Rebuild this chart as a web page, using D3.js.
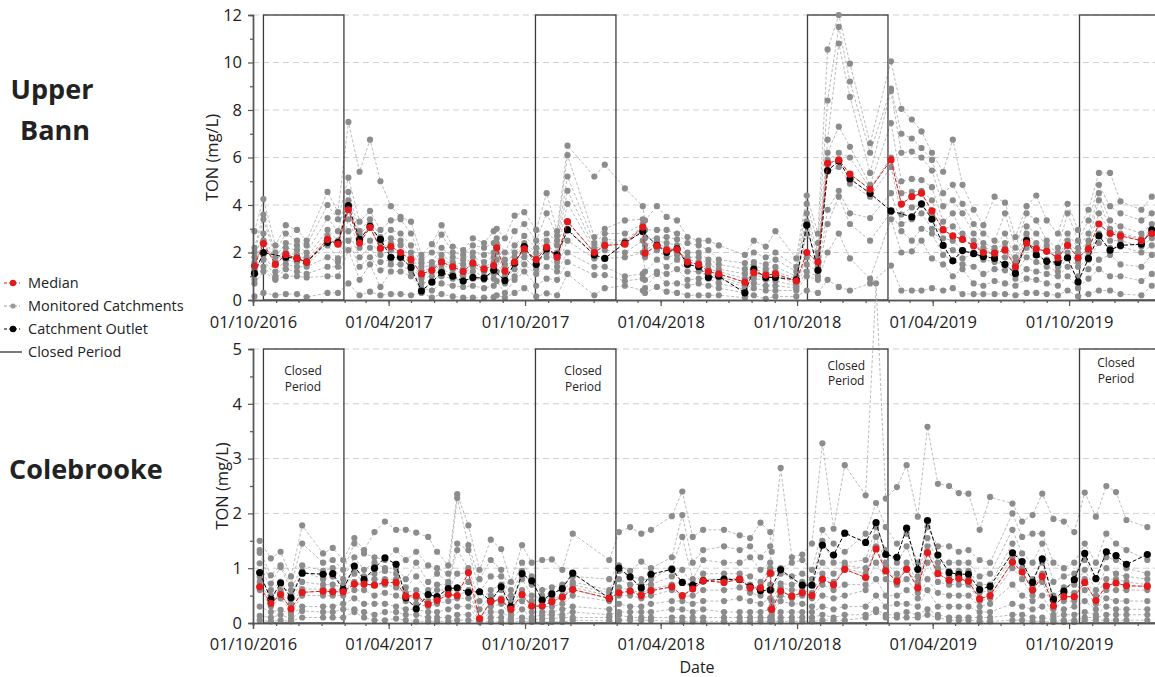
<!DOCTYPE html>
<html>
<head>
<meta charset="utf-8">
<script src="https://cdn.jsdelivr.net/npm/d3@7"></script>
<style>
  body { margin: 0; background: #fff; }
  text { font-family: "Open Sans", sans-serif; fill: #222; }
</style>
</head>
<body>
<svg id="chart" width="1155" height="677"></svg>
<script>
// ---- Upper Bann (top panel) ----
var ubDates = ["2016-10-03","2016-10-15","2016-10-31","2016-11-14","2016-11-29","2016-12-12","2017-01-09","2017-01-23",
  "2017-02-06","2017-02-21","2017-03-07","2017-03-21","2017-04-04","2017-04-17","2017-05-01","2017-05-15","2017-05-29",
  "2017-06-11","2017-06-26","2017-07-10","2017-07-23","2017-08-07","2017-08-20","2017-08-24","2017-09-04","2017-09-17",
  "2017-09-30","2017-10-16","2017-10-30","2017-11-13","2017-11-27","2018-01-02","2018-01-16","2018-02-12","2018-03-08",
  "2018-03-11","2018-03-27","2018-04-09","2018-04-23","2018-05-07","2018-05-22","2018-06-04","2018-06-18","2018-07-23",
  "2018-08-04","2018-08-20","2018-09-02","2018-09-30","2018-10-14","2018-10-29","2018-11-11","2018-11-26","2018-12-11",
  "2019-01-07","2019-02-04","2019-02-18","2019-03-04","2019-03-17","2019-03-31","2019-04-15","2019-04-28","2019-05-11",
  "2019-05-26","2019-06-08","2019-06-23","2019-07-07","2019-07-21","2019-08-05","2019-08-18","2019-09-01","2019-09-16",
  "2019-09-29","2019-10-13","2019-10-27","2019-11-10","2019-11-25","2019-12-09","2020-01-06","2020-01-20"];
var ubMedian = [1.44,2.38,1.5,1.92,1.75,1.6,2.55,2.35,3.8,2.4,3.05,2.17,2.25,2.0,1.7,1.1,1.25,1.6,1.4,1.2,1.55,1.3,1.45,2.2,
  1.22,1.6,2.15,1.7,2.22,1.8,3.3,2.0,2.3,2.35,3.07,1.97,2.28,2.1,2.12,1.6,1.5,1.2,1.1,0.75,1.15,1.05,1.1,0.8,2.0,1.6,5.75,
  5.9,5.3,4.66,5.9,4.04,4.35,4.5,3.75,2.95,2.7,2.55,2.28,2.0,1.97,2.1,1.4,2.4,2.15,2.05,1.78,2.3,1.78,2.15,3.2,2.8,2.7,2.5,2.8];
var ubOutlet = [1.12,2.0,null,1.8,1.75,1.6,2.43,2.42,3.97,2.55,3.1,2.55,1.8,1.8,1.37,0.38,0.75,1.15,1.0,0.8,0.95,0.92,1.25,null,
  0.82,1.55,2.25,1.5,2.15,1.9,2.95,1.9,1.75,2.4,2.88,null,2.3,2.0,2.15,1.5,1.4,0.95,1.0,0.3,1.3,0.95,0.95,0.85,3.15,1.25,5.45,
  5.85,5.1,4.49,3.75,null,3.5,4.05,3.4,2.3,1.65,2.08,1.95,1.83,1.75,1.5,1.12,2.5,1.9,1.63,1.58,1.78,0.76,1.75,2.7,2.1,2.3,2.35,2.95];
// one row per sampling date, one column per monitored catchment
var ubCatch = [
  [2.9,2.2,2.0,1.8,1.6,1.45,1.3,1.2,0.85,0.7,0.15],
  [4.25,3.6,3.4,2.8,2.5,2.38,1.9,1.7,1.4,1.2,0.3],
  [2.3,2.0,1.8,1.6,1.55,1.5,1.2,1.0,0.9,0.85,0.2],
  [3.15,2.8,2.4,2.2,2.0,1.9,1.7,1.5,1.3,1.0,0.25],
  [2.95,2.5,2.3,2.1,1.9,1.75,1.6,1.4,1.2,1.0,0.25],
  [2.5,2.3,2.0,1.8,1.7,1.6,1.5,1.4,1.1,0.95,0.12],
  [4.55,4.0,3.45,2.95,2.7,2.55,2.3,1.8,1.4,1.0,0.3],
  [3.7,3.4,2.9,2.5,2.4,2.35,1.75,1.6,1.4,1.0,0.3],
  [7.5,5.15,4.55,4.2,3.9,3.8,3.4,2.9,2.5,2.1,0.7],
  [5.4,3.3,2.9,2.75,2.55,2.4,2.2,1.8,1.4,0.85,0.2],
  [6.75,3.75,3.4,3.2,3.1,3.05,2.5,2.2,1.8,1.5,0.35],
  [5.0,2.95,2.65,2.4,2.2,2.17,1.9,1.6,1.25,0.55,0.2],
  [3.95,3.35,2.95,2.6,2.4,2.25,2.1,1.7,1.5,1.2,0.25],
  [3.5,3.4,2.8,2.5,2.3,2.0,1.9,1.75,1.5,1.2,0.25],
  [3.3,2.8,2.3,2.0,1.8,1.7,1.55,1.4,1.2,1.0,0.2],
  [1.9,1.7,1.55,1.4,1.25,1.1,1.0,0.9,0.7,0.5,0.3],
  [2.35,2.0,1.6,1.45,1.3,1.25,1.2,1.0,0.8,0.4,0.1],
  [3.15,2.75,2.2,1.9,1.7,1.6,1.5,1.3,1.0,0.7,0.25],
  [2.25,2.0,1.8,1.6,1.5,1.4,1.3,1.1,0.9,0.6,0.15],
  [2.1,1.9,1.7,1.5,1.3,1.2,1.1,1.0,0.8,0.55,0.1],
  [2.6,2.3,2.0,1.8,1.6,1.55,1.4,1.2,0.9,0.6,0.1],
  [2.4,2.2,1.9,1.6,1.4,1.3,1.2,1.0,0.85,0.5,0.1],
  [2.9,2.4,2.0,1.8,1.6,1.45,1.3,1.1,0.9,0.6,0.12],
  [3.0,2.6,2.4,2.3,2.25,2.2,2.0,1.7,1.2,0.8,0.2],
  [2.6,2.0,1.7,1.5,1.3,1.22,1.0,0.9,0.7,0.3,0.1],
  [3.55,2.9,2.3,2.0,1.8,1.6,1.5,1.3,1.0,0.85,0.3],
  [3.7,3.2,2.7,2.4,2.3,2.15,2.0,1.8,1.5,1.2,0.5],
  [2.95,2.5,2.2,2.0,1.8,1.7,1.5,1.3,1.1,0.6,0.15],
  [4.5,3.65,2.8,2.5,2.3,2.22,2.0,1.8,1.4,0.9,0.28],
  [2.9,2.7,2.5,2.3,2.0,1.8,1.6,1.4,1.2,0.85,0.2],
  [6.5,6.1,5.2,4.6,4.05,3.3,3.0,2.5,2.0,1.6,1.1],
  [5.2,2.65,2.4,2.2,2.1,2.0,1.9,1.75,1.4,1.05,0.2],
  [5.7,3.0,2.8,2.55,2.4,2.3,2.1,1.75,1.4,1.05,0.5],
  [4.7,3.35,2.8,2.5,2.4,2.35,2.0,1.8,1.0,0.8,0.6],
  [3.95,3.4,3.2,3.1,3.07,2.95,2.5,2.0,1.1,0.9,0.4],
  [3.35,2.95,2.6,2.3,2.1,1.97,1.8,1.2,0.85,0.5,0.3],
  [3.95,2.95,2.6,2.5,2.4,2.28,2.1,1.7,1.2,1.1,0.55],
  [3.5,2.95,2.65,2.4,2.2,2.1,1.8,1.4,1.1,0.7,0.35],
  [3.35,2.8,2.55,2.3,2.15,2.12,1.9,1.7,1.3,0.7,0.3],
  [2.65,2.4,2.0,1.8,1.7,1.6,1.5,1.2,0.85,0.6,0.2],
  [2.5,2.3,2.0,1.8,1.6,1.5,1.4,1.2,0.9,0.7,0.2],
  [2.5,2.1,1.7,1.5,1.3,1.2,1.1,1.0,0.9,0.6,0.2],
  [2.3,1.7,1.5,1.3,1.2,1.1,1.0,0.9,0.7,0.5,0.2],
  [1.9,1.55,1.3,1.1,0.9,0.75,0.65,0.55,0.45,0.3,0.1],
  [2.5,2.0,1.6,1.45,1.3,1.15,1.0,0.9,0.7,0.5,0.2],
  [2.25,1.8,1.5,1.3,1.15,1.05,1.0,0.85,0.6,0.4,0.05],
  [2.9,2.0,1.7,1.4,1.2,1.1,1.0,0.8,0.6,0.4,0.15],
  [1.75,1.4,1.2,1.0,0.9,0.8,0.7,0.6,0.5,0.4,0.15],
  [4.4,4.05,3.65,3.3,2.8,2.0,1.8,1.5,1.2,1.0,0.4],
  [2.8,2.4,2.0,1.8,1.7,1.6,1.4,1.2,1.0,0.85,0.3],
  [10.55,8.4,6.75,6.2,5.9,5.75,5.4,3.8,3.2,2.0,0.85],
  [12.0,11.5,10.8,7.3,6.2,5.9,5.6,4.6,4.35,2.8,0.55],
  [9.95,9.2,8.55,6.45,6.0,5.3,4.9,3.65,3.2,1.75,0.4],
  [6.6,6.2,5.35,4.85,4.7,4.66,4.35,3.45,2.5,0.9,0.7],
  [10.05,8.9,8.8,7.45,6.0,5.9,5.6,4.5,3.7,3.4,1.45],
  [8.05,7.0,6.2,5.0,4.5,4.04,3.6,3.2,2.9,2.0,0.4],
  [7.6,6.8,6.25,5.1,4.55,4.35,3.9,3.4,2.5,2.05,0.4],
  [7.1,6.4,6.0,5.05,4.6,4.5,4.0,3.65,3.0,2.5,0.4],
  [6.2,5.9,5.45,4.75,4.2,3.75,3.5,3.0,2.8,1.75,0.5],
  [5.4,4.5,3.95,3.3,3.0,2.95,2.6,2.3,1.9,1.5,0.4],
  [6.75,4.85,4.2,3.65,3.1,2.7,2.5,2.1,1.65,1.0,0.5],
  [4.85,4.05,3.65,2.8,2.6,2.55,2.1,1.75,1.5,1.3,0.25],
  [3.8,3.2,2.8,2.5,2.3,2.28,2.0,1.95,1.4,0.7,0.25],
  [3.15,2.8,2.4,2.2,2.1,2.0,1.8,1.7,1.1,0.6,0.25],
  [4.35,2.5,2.2,2.1,2.0,1.97,1.9,1.6,1.3,0.8,0.25],
  [4.1,3.65,2.8,2.4,2.2,2.1,1.8,1.5,1.25,0.7,0.25],
  [2.65,2.2,1.8,1.6,1.5,1.4,1.3,1.12,0.9,0.6,0.2],
  [3.95,3.65,3.1,2.8,2.6,2.4,2.2,1.8,1.3,0.9,0.3],
  [4.4,3.35,2.8,2.4,2.2,2.15,1.9,1.6,1.2,0.85,0.3],
  [3.35,2.5,2.3,2.1,2.05,2.05,1.7,1.4,1.1,0.7,0.25],
  [2.8,2.2,2.0,1.85,1.8,1.78,1.4,1.2,1.0,0.6,0.2],
  [4.05,3.65,2.8,2.5,2.35,2.3,2.0,1.8,1.4,1.0,0.4],
  [2.95,2.5,2.2,2.0,1.85,1.78,1.6,1.4,1.0,0.5,0.15],
  [3.8,3.35,2.8,2.5,2.3,2.15,2.0,1.7,1.3,0.9,0.25],
  [5.35,4.85,4.5,4.2,3.65,3.2,2.8,2.4,1.7,1.3,0.4],
  [5.35,3.95,3.35,3.0,2.9,2.8,2.5,2.2,1.9,1.0,0.4],
  [4.15,3.65,3.1,2.8,2.75,2.7,2.5,2.25,1.5,1.0,0.25],
  [3.8,3.35,2.8,2.6,2.55,2.5,2.25,2.0,1.4,0.8,0.2],
  [4.35,3.65,3.2,3.0,2.9,2.8,2.6,2.3,1.9,1.1,0.6]
];

// ---- Colebrooke (bottom panel) ----
var cbDates = ["2016-10-10","2016-10-25","2016-11-07","2016-11-21","2016-12-06","2017-01-03","2017-01-16","2017-01-30",
  "2017-02-14","2017-02-27","2017-03-13","2017-03-27","2017-04-11","2017-04-24","2017-05-08","2017-05-24","2017-06-05",
  "2017-06-20","2017-07-02","2017-07-17","2017-08-01","2017-08-16","2017-08-30","2017-09-12","2017-09-27","2017-10-10",
  "2017-10-24","2017-11-06","2017-11-20","2017-12-04","2018-01-22","2018-02-04","2018-02-19","2018-03-06","2018-03-19",
  "2018-04-16","2018-04-30","2018-05-14","2018-05-28","2018-06-25","2018-07-16","2018-07-30","2018-08-13","2018-08-26",
  "2018-08-28","2018-09-09","2018-09-24","2018-10-08","2018-10-21","2018-11-04","2018-11-19","2018-12-04","2019-01-01",
  "2019-01-15","2019-01-28","2019-02-12","2019-02-25","2019-03-12","2019-03-25","2019-04-08","2019-04-23","2019-05-06",
  "2019-05-19","2019-06-03","2019-06-17","2019-07-17","2019-07-30","2019-08-13","2019-08-26","2019-09-10","2019-09-24",
  "2019-10-08","2019-10-22","2019-11-06","2019-11-20","2019-12-03","2019-12-17","2020-01-14"];
var cbMedian = [0.66,0.36,0.52,0.26,0.56,0.58,0.57,0.57,0.71,0.71,0.69,0.74,0.74,0.49,0.5,0.34,0.41,0.52,0.5,0.92,0.08,0.39,
  0.42,0.25,0.52,0.31,0.31,0.39,0.47,0.61,0.45,0.55,0.58,0.5,0.59,0.66,0.5,0.62,0.77,0.74,0.8,0.64,0.64,0.91,0.25,0.58,0.49,
  0.55,0.5,0.8,0.7,0.98,0.83,1.35,0.95,0.76,0.98,0.64,1.28,0.9,0.78,0.81,0.76,0.44,0.5,1.11,0.93,0.6,0.85,0.31,0.48,0.48,
  0.74,0.41,0.68,0.73,0.68,0.67];
var cbOutlet = [0.92,0.43,0.73,0.46,0.91,0.89,0.9,0.61,1.04,0.79,1.0,1.19,1.07,0.46,0.26,0.52,0.48,0.63,0.64,0.56,0.57,0.4,
  0.66,0.3,0.9,0.77,0.42,0.53,0.63,0.91,0.45,1.0,0.84,0.64,0.89,0.98,0.74,0.69,0.77,0.8,0.79,0.66,0.59,0.6,null,0.97,null,
  0.69,0.69,1.42,1.24,1.64,1.47,1.83,1.25,1.2,1.73,0.98,1.87,1.24,0.92,0.89,0.89,0.61,0.67,1.28,1.12,0.74,1.17,0.43,0.58,
  0.79,1.27,0.81,1.3,1.23,1.07,1.25];
var cbCatch = [
  [1.5,1.33,1.28,1.09,0.84,0.75,0.66,0.6,0.3,0.13,0.05],
  [1.18,0.87,0.72,0.6,0.5,0.4,0.36,0.3,0.2,0.1,0.03],
  [1.3,1.05,1.02,0.75,0.6,0.55,0.52,0.45,0.24,0.15,0.05],
  [0.85,0.7,0.6,0.5,0.45,0.35,0.26,0.2,0.15,0.08,0.03],
  [1.78,1.45,1.05,0.95,0.75,0.62,0.56,0.5,0.3,0.22,0.1],
  [1.27,1.1,0.95,0.8,0.7,0.62,0.58,0.5,0.3,0.2,0.1],
  [1.37,1.15,1.0,0.85,0.7,0.6,0.57,0.5,0.3,0.2,0.1],
  [1.15,0.97,0.8,0.7,0.65,0.6,0.57,0.5,0.35,0.25,0.1],
  [1.55,1.45,1.2,1.0,0.9,0.75,0.71,0.6,0.45,0.25,0.2],
  [1.33,1.27,0.97,0.85,0.75,0.72,0.71,0.6,0.35,0.2,0.1],
  [1.66,1.2,1.1,0.9,0.8,0.7,0.69,0.5,0.35,0.15,0.05],
  [1.85,1.15,1.0,0.95,0.8,0.74,0.7,0.55,0.35,0.2,0.05],
  [1.7,1.33,1.0,0.9,0.8,0.74,0.65,0.5,0.3,0.2,0.08],
  [1.7,1.15,0.8,0.65,0.55,0.5,0.49,0.4,0.25,0.15,0.05],
  [1.65,1.3,1.1,0.85,0.6,0.5,0.45,0.35,0.25,0.15,0.03],
  [1.57,1.05,0.75,0.6,0.5,0.4,0.34,0.3,0.2,0.1,0.03],
  [1.3,1.0,0.9,0.7,0.6,0.45,0.41,0.35,0.2,0.1,0.03],
  [1.05,0.9,0.75,0.7,0.6,0.55,0.52,0.4,0.25,0.1,0.03],
  [2.35,2.28,1.45,1.33,0.9,0.64,0.5,0.45,0.3,0.15,0.05],
  [1.78,1.42,1.33,1.0,0.92,0.75,0.6,0.45,0.3,0.15,0.05],
  [0.97,0.8,0.57,0.4,0.25,0.08,0.06,0.05,0.04,0.03,0.02],
  [1.52,1.15,0.85,0.6,0.5,0.4,0.39,0.3,0.2,0.1,0.02],
  [1.35,0.97,0.85,0.7,0.6,0.45,0.42,0.35,0.2,0.1,0.02],
  [0.75,0.6,0.5,0.4,0.3,0.25,0.2,0.15,0.1,0.05,0.02],
  [1.42,1.1,0.95,0.8,0.6,0.52,0.5,0.4,0.25,0.1,0.03],
  [1.1,0.85,0.7,0.5,0.4,0.31,0.3,0.2,0.1,0.05,0.02],
  [1.15,0.6,0.5,0.45,0.4,0.31,0.3,0.2,0.15,0.08,0.02],
  [1.16,0.65,0.55,0.45,0.42,0.39,0.3,0.2,0.15,0.08,0.02],
  [0.97,0.7,0.6,0.5,0.48,0.47,0.35,0.25,0.15,0.1,0.02],
  [1.63,0.85,0.75,0.7,0.65,0.61,0.5,0.3,0.2,0.1,0.05],
  [1.15,0.8,0.6,0.55,0.5,0.45,0.4,0.25,0.15,0.1,0.04],
  [1.66,1.05,0.95,0.8,0.65,0.55,0.5,0.35,0.2,0.15,0.05],
  [1.75,0.95,0.85,0.7,0.6,0.58,0.5,0.3,0.2,0.1,0.05],
  [1.63,1.12,0.8,0.7,0.55,0.5,0.45,0.3,0.2,0.1,0.05],
  [1.7,1.0,0.8,0.7,0.62,0.59,0.5,0.35,0.2,0.1,0.05],
  [1.95,1.2,1.0,0.85,0.7,0.66,0.6,0.4,0.25,0.1,0.03],
  [2.4,1.97,1.57,0.97,0.75,0.5,0.48,0.4,0.25,0.1,0.03],
  [1.57,1.1,0.8,0.7,0.65,0.62,0.5,0.35,0.2,0.1,0.03],
  [1.7,1.33,1.15,0.9,0.8,0.77,0.6,0.4,0.25,0.1,0.03],
  [1.7,1.4,1.1,0.9,0.8,0.74,0.6,0.4,0.2,0.1,0.03],
  [1.6,1.33,1.1,0.9,0.82,0.8,0.65,0.45,0.2,0.1,0.03],
  [1.55,1.4,1.2,0.85,0.7,0.66,0.55,0.4,0.2,0.1,0.03],
  [1.83,1.2,0.97,0.75,0.65,0.64,0.5,0.35,0.2,0.1,0.03],
  [1.66,1.4,1.1,1.0,0.95,0.91,0.7,0.45,0.25,0.1,0.03],
  [1.3,0.9,0.6,0.4,0.3,0.25,0.2,0.15,0.1,0.05,0.03],
  [2.83,1.0,0.9,0.72,0.65,0.59,0.5,0.4,0.2,0.1,0.03],
  [1.2,1.1,0.85,0.7,0.6,0.5,0.45,0.35,0.2,0.1,0.03],
  [1.25,1.15,0.9,0.75,0.6,0.55,0.5,0.35,0.2,0.1,0.03],
  [1.45,0.97,0.8,0.7,0.55,0.5,0.45,0.3,0.2,0.1,0.03],
  [3.28,1.7,1.5,1.1,0.9,0.8,0.7,0.5,0.3,0.15,0.05],
  [1.72,1.45,1.1,0.9,0.75,0.7,0.6,0.45,0.25,0.1,0.05],
  [2.88,1.3,1.1,1.05,1.0,0.98,0.7,0.5,0.3,0.15,0.05],
  [2.33,1.63,1.15,1.0,0.9,0.83,0.7,0.6,0.3,0.15,0.1],
  [6.2,2.19,1.75,1.57,1.4,1.35,1.1,0.8,0.5,0.25,0.2],
  [2.27,1.75,1.33,1.1,1.0,0.95,0.8,0.5,0.3,0.15,0.1],
  [2.48,1.45,1.1,0.9,0.8,0.76,0.7,0.5,0.35,0.15,0.1],
  [2.88,1.63,1.4,1.1,1.0,0.98,0.8,0.6,0.35,0.2,0.1],
  [1.94,1.1,0.85,0.75,0.7,0.64,0.55,0.45,0.3,0.15,0.1],
  [3.58,1.75,1.55,1.4,1.3,1.28,1.1,0.8,0.6,0.25,0.15],
  [2.54,1.4,1.1,1.0,0.95,0.9,0.75,0.55,0.3,0.15,0.1],
  [2.5,1.4,1.1,0.95,0.85,0.78,0.7,0.5,0.3,0.1,0.05],
  [2.37,1.3,1.1,0.95,0.85,0.81,0.7,0.5,0.3,0.1,0.05],
  [2.36,1.33,1.1,0.95,0.8,0.76,0.7,0.5,0.3,0.1,0.05],
  [1.7,1.15,0.85,0.7,0.55,0.44,0.4,0.3,0.2,0.1,0.03],
  [2.3,1.1,0.9,0.7,0.6,0.5,0.45,0.35,0.2,0.1,0.03],
  [2.18,2.0,1.7,1.45,1.2,1.11,1.0,0.7,0.35,0.15,0.05],
  [1.85,1.57,1.27,1.0,0.95,0.93,0.8,0.5,0.3,0.15,0.05],
  [1.97,1.63,1.1,0.8,0.65,0.6,0.5,0.4,0.25,0.1,0.03],
  [2.36,1.63,1.45,1.1,0.9,0.85,0.75,0.5,0.3,0.1,0.03],
  [1.9,1.1,0.75,0.5,0.4,0.31,0.25,0.15,0.1,0.05,0.02],
  [1.85,1.0,0.85,0.65,0.55,0.48,0.4,0.25,0.15,0.05,0.02],
  [1.66,1.1,0.9,0.7,0.55,0.48,0.4,0.3,0.15,0.05,0.02],
  [2.38,1.45,1.15,0.97,0.8,0.74,0.6,0.4,0.2,0.1,0.05],
  [1.94,1.1,0.8,0.6,0.5,0.41,0.35,0.25,0.15,0.1,0.05],
  [2.5,1.63,1.2,1.0,0.8,0.68,0.6,0.45,0.3,0.15,0.05],
  [2.39,1.45,1.15,0.9,0.8,0.73,0.6,0.4,0.25,0.15,0.05],
  [1.88,1.33,1.0,0.85,0.75,0.68,0.6,0.4,0.25,0.15,0.05],
  [1.75,1.15,0.9,0.8,0.7,0.67,0.6,0.4,0.25,0.15,0.05]
];

// closed periods (15 Oct - 31 Jan)
var closedStart = ["2016-10-15","2017-10-15","2018-10-15","2019-10-15"];
var closedEnd   = ["2017-01-31","2018-01-31","2019-01-31","2020-01-31"];
// where the "Closed Period" note sits in the lower panel
var noteDates  = ["2016-12-07","2017-12-18","2018-12-06","2019-12-03"];
var noteValues = [4.6,4.6,4.7,4.74];

var ubTicks = [0,2,4,6,8,10,12];
var cbTicks = [0,1,2,3,4,5];

var parse = d3.timeParse("%Y-%m-%d");
var fmt = d3.timeFormat("%d/%m/%Y");
var svg = d3.select("#chart");

var x = d3.scaleTime()
  .domain([parse("2016-10-01"), parse("2020-01-31")])
  .range([253, 1160]);

var monthTicks = d3.timeMonth.range(parse("2016-10-01"), parse("2020-02-01"));
var labelTicks = monthTicks.filter(function(d) { return d.getMonth() == 3 || d.getMonth() == 9; });

function drawPanel(p) {
  var g = svg.append("g");
  var y = d3.scaleLinear().domain([0, p.max]).range([p.bottom, p.top]);
  var dates = p.dates.map(parse);

  // dashed grid
  g.selectAll(".grid").data(p.ticks.slice(1)).enter().append("line")
    .attr("x1", 253).attr("x2", 1155)
    .attr("y1", function(d) { return y(d); }).attr("y2", function(d) { return y(d); })
    .attr("stroke", "#cfcfcf").attr("stroke-dasharray", "6,4");

  // monitored catchments
  var line = d3.line().x(function(d) { return x(d[0]); }).y(function(d) { return y(d[1]); });
  var nCatch = p.rows[0].length;
  for (var c = 0; c < nCatch; c++) {
    var pts = [];
    dates.forEach(function(d, i) { if (p.rows[i][c] != null) pts.push([d, p.rows[i][c]]); });
    g.append("path").attr("d", line(pts)).attr("fill", "none")
      .attr("stroke", "#a9a9a9").attr("stroke-width", 0.8).attr("stroke-dasharray", "3,2");
  }

  // closed period boxes
  closedStart.forEach(function(s, i) {
    var x0 = x(parse(s)), x1 = x(parse(closedEnd[i]));
    g.append("rect").attr("x", x0).attr("y", y(p.max))
      .attr("width", x1 - x0).attr("height", y(0) - y(p.max))
      .attr("fill", "none").attr("stroke", "#3c3c3c").attr("stroke-width", 1.3);
  });

  p.rows.forEach(function(row, i) {
    row.forEach(function(v) {
      if (v == null) return;
      g.append("circle").attr("cx", x(dates[i])).attr("cy", y(v)).attr("r", 3.1).attr("fill", "#8c8c8c");
    });
  });

  function series(vals, colour) {
    var pts = [];
    dates.forEach(function(d, i) { if (vals[i] != null) pts.push([d, vals[i]]); });
    g.append("path").attr("d", line(pts)).attr("fill", "none")
      .attr("stroke", colour).attr("stroke-width", 1).attr("stroke-dasharray", "4,2");
    g.selectAll(null).data(pts).enter().append("circle")
      .attr("cx", function(d) { return x(d[0]); }).attr("cy", function(d) { return y(d[1]); })
      .attr("r", 3.6).attr("fill", colour);
  }
  series(p.outlet, "#000");
  series(p.median, "#e3191c");

  // axes
  var ya = g.append("g").attr("transform", "translate(253,0)")
    .call(d3.axisLeft(y).tickValues(p.ticks).tickSize(5).tickPadding(6).tickFormat(d3.format("d")));
  g.append("g").attr("transform", "translate(253,0)")
    .call(d3.axisLeft(y).tickValues(p.minor).tickSize(3).tickFormat(""));
  var xa = g.append("g").attr("transform", "translate(0," + p.bottom + ")")
    .call(d3.axisBottom(x).tickValues(labelTicks).tickSize(6).tickFormat(fmt));
  g.append("g").attr("transform", "translate(0," + p.bottom + ")")
    .call(d3.axisBottom(x).tickValues(monthTicks).tickSize(3).tickFormat(""));
  g.selectAll(".domain, .tick line").attr("stroke", "#555").attr("stroke-width", 1.2);
  ya.selectAll("text").style("font-size", "16.5px").attr("fill", "#222");
  xa.selectAll("text").style("font-size", "16.5px").attr("fill", "#222").attr("y", p.labelY);
  g.selectAll(".domain").attr("stroke-width", 1.4);

  g.append("text").attr("transform", "translate(" + p.titleX + "," + ((p.top + p.bottom) / 2) + ") rotate(-90)")
    .attr("text-anchor", "middle").attr("dy", "0.35em").style("font-size", "16.5px").text("TON (mg/L)");
  return y;
}

drawPanel({ dates: ubDates, median: ubMedian, outlet: ubOutlet, rows: ubCatch, max: 12,
  ticks: ubTicks, minor: [1,3,5,7,9,11], top: 15, bottom: 300, labelY: 16, titleX: 212 });
var yB = drawPanel({ dates: cbDates, median: cbMedian, outlet: cbOutlet, rows: cbCatch, max: 5,
  ticks: cbTicks, minor: [0.5,1.5,2.5,3.5,4.5], top: 349, bottom: 623, labelY: 15, titleX: 222 });

noteDates.forEach(function(d, i) {
  var t = svg.append("text").attr("x", x(parse(d))).attr("y", yB(noteValues[i]))
    .attr("text-anchor", "middle").style("font-size", "12px").attr("fill", "#333");
  t.append("tspan").attr("x", x(parse(d))).attr("dy", "0.35em").text("Closed");
  t.append("tspan").attr("x", x(parse(d))).attr("dy", "1.3em").text("Period");
});

svg.append("text").attr("x", 697).attr("y", 667).attr("dy", "0.35em").attr("text-anchor", "middle")
  .style("font-size", "16px").text("Date");

// site names
svg.append("text").attr("x", 52).attr("y", 99).attr("text-anchor", "middle")
  .style("font-size", "27px").style("font-weight", "bold").attr("fill", "#111").text("Upper");
svg.append("text").attr("x", 55).attr("y", 140).attr("text-anchor", "middle")
  .style("font-size", "27px").style("font-weight", "bold").attr("fill", "#111").text("Bann");
svg.append("text").attr("x", 9).attr("y", 479)
  .style("font-size", "27px").style("font-weight", "bold").attr("fill", "#111").text("Colebrooke");

// legend
var legend = [
  { name: "Median", colour: "#e3191c", dot: 3.2, dash: "3,2" },
  { name: "Monitored Catchments", colour: "#9a9a9a", dot: 2.6, dash: "3,2" },
  { name: "Catchment Outlet", colour: "#000", dot: 3.2, dash: "3,2" },
  { name: "Closed Period", colour: "#333", dot: 0, dash: null }
];
legend.forEach(function(l, i) {
  var yy = 283 + i * 23;
  if (l.dash) {
    svg.append("line").attr("x1", 4).attr("x2", 20).attr("y1", yy).attr("y2", yy)
      .attr("stroke", l.colour).attr("stroke-width", 1).attr("stroke-dasharray", l.dash);
    svg.append("circle").attr("cx", 13).attr("cy", yy).attr("r", l.dot).attr("fill", l.colour);
  } else {
    svg.append("line").attr("x1", 0).attr("x2", 22).attr("y1", yy).attr("y2", yy)
      .attr("stroke", l.colour).attr("stroke-width", 1.3);
  }
  svg.append("text").attr("x", 28).attr("y", yy).attr("dy", "0.35em")
    .style("font-size", "14.5px").text(l.name);
});
</script>
</body>
</html>
